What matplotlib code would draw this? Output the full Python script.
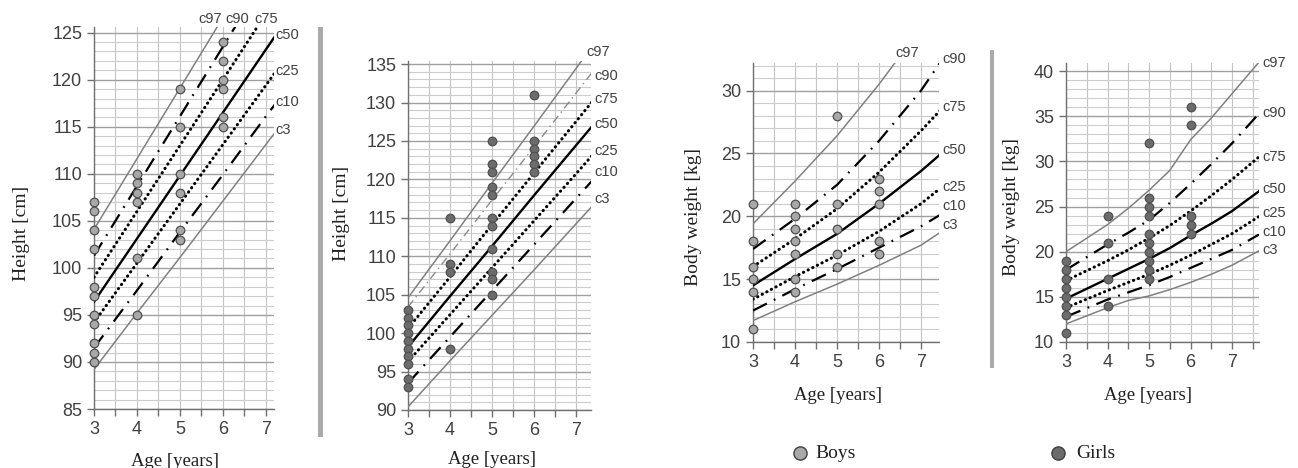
import numpy as np
import matplotlib
matplotlib.use('Agg')
import matplotlib.pyplot as plt
from matplotlib.lines import Line2D
from matplotlib.patches import Rectangle

W, H = 1298, 468
names = ['c97', 'c90', 'c75', 'c50', 'c25', 'c10', 'c3']

# boys height
ages_bh = [3, 4, 5, 6, 7, 7.3]
bh = {
    'c97': [104.1, 111.6, 119.1, 126.6, 134.1, 136.3],
    'c90': [101.3, 108.7, 116.1, 123.5, 130.9, 133.1],
    'c75': [99.0, 106.0, 113.0, 120.0, 127.0, 129.1],
    'c50': [96.4, 103.1, 109.8, 116.5, 123.2, 125.2],
    'c25': [94.2, 100.5, 106.8, 113.1, 119.4, 121.3],
    'c10': [91.5, 97.6, 103.8, 109.9, 116.1, 117.9],
    'c3': [89.2, 95.2, 101.1, 107.1, 113.1, 114.9],
}
bh_x = [3]*11 + [4]*6 + [5]*6 + [6]*6
bh_y = [107, 106, 104, 102, 98, 97, 95, 94, 92, 91, 90,
        110, 109, 108, 107, 101, 95,
        119, 115, 110, 108, 104, 103,
        124, 122, 120, 119, 116, 115]

# girls height
ages_gh = [3, 4, 5, 6, 7, 7.4]
gh = {
    'c97': [104.6, 112.0, 119.5, 126.9, 134.4, 137.4],
    'c90': [103.4, 110.3, 117.3, 124.2, 131.2, 134.0],
    'c75': [100.6, 107.3, 114.1, 120.8, 127.5, 130.2],
    'c50': [98.2, 104.8, 111.3, 117.9, 124.4, 127.0],
    'c25': [96.3, 102.4, 108.5, 114.6, 120.7, 123.2],
    'c10': [93.5, 99.5, 105.5, 111.5, 117.5, 119.9],
    'c3': [90.4, 96.4, 102.3, 108.2, 114.2, 116.6],
}
gh_x = [3]*10 + [4]*4 + [5]*11 + [6]*6
gh_y = [103, 102, 101, 100, 99, 98, 97, 96, 94, 93,
        115, 109, 108, 98,
        125, 122, 121, 119, 118, 115, 114, 111, 108, 107, 105,
        131, 125, 124, 123, 122, 121]

# boys weight
ages_bw = [3, 4, 5, 6, 7, 7.45]
bw = {
    'c97': [19.4, 22.8, 26.4, 30.5, 35.0, 37.0],
    'c90': [17.4, 19.8, 22.5, 26.0, 30.0, 32.2],
    'c75': [16.0, 18.2, 20.6, 23.5, 26.8, 28.4],
    'c50': [14.5, 16.6, 18.6, 21.0, 23.6, 24.9],
    'c25': [13.4, 15.2, 16.9, 18.8, 21.0, 22.2],
    'c10': [12.5, 14.2, 15.8, 17.5, 19.2, 20.1],
    'c3': [11.7, 13.2, 14.6, 16.1, 17.7, 18.7],
}
bw_x = [3]*6 + [4]*7 + [5]*5 + [6]*5
bw_y = [21, 18, 16, 15, 14, 11,
        21, 20, 19, 18, 17, 15, 14,
        28, 21, 19, 17, 16,
        23, 22, 21, 18, 17]

# girls weight
ages_gw = [3, 4, 4.5, 5, 5.5, 6, 6.5, 7, 7.65]
gw = {
    'c97': [20.0, 23.0, 24.8, 26.8, 29.0, 32.4, 34.8, 37.5, 41.0],
    'c90': [18.0, 20.8, 22.1, 23.5, 25.4, 27.5, 29.7, 32.0, 35.3],
    'c75': [16.8, 19.0, 20.2, 21.5, 22.9, 24.5, 26.2, 28.0, 30.5],
    'c50': [14.8, 17.0, 18.1, 19.2, 20.4, 21.8, 23.1, 24.5, 26.7],
    'c25': [13.8, 15.7, 16.6, 17.5, 18.5, 19.6, 20.8, 22.0, 23.9],
    'c10': [12.8, 14.7, 15.5, 16.3, 17.2, 18.2, 19.2, 20.2, 21.9],
    'c3': [12.0, 13.8, 14.6, 15.1, 15.8, 16.6, 17.5, 18.5, 20.1],
}
gw_x = [3]*8 + [4]*4 + [5]*10 + [6]*5
gw_y = [19, 18, 17, 16, 15, 14, 13, 11,
        24, 21, 17, 14,
        32, 26, 25, 24, 22, 21, 20, 19, 18, 17,
        36, 34, 24, 23, 22]

boys_fill = '#a8a8a8'
girls_fill = '#6c6c6c'

dashdot = (0, (7, 3.5, 0.8, 3.5))
dotted = (0, (0.1, 1.6))


def style(name, thin_c90=False):
    if name in ('c97', 'c3'):
        return dict(color='#808080', lw=1.1)
    if name == 'c50':
        return dict(color='black', lw=1.7)
    if name in ('c75', 'c25'):
        return dict(color='black', lw=2.2, linestyle=dotted, dash_capstyle='round')
    if name == 'c90' and thin_c90:
        return dict(color='#8a8a8a', lw=1.0, linestyle=(0, (6, 3, 1, 3)))
    return dict(color='black', lw=1.6, linestyle=dashdot)


def box(l, r, t, b):
    return [l / W, 1 - b / H, (r - l) / W, (b - t) / H]


fig = plt.figure(figsize=(W / 100, H / 100), dpi=100)
sans = 'Liberation Sans'
serif = 'Liberation Serif'

panels = [
    dict(pos=box(94, 274, 27, 409), xlim=(3, 7.19), ylim=(85, 125.6), major=5,
         ages=ages_bh, curves=bh, px=bh_x, py=bh_y, fill=boys_fill, ylabel='Height [cm]',
         thin=False,
         labels={'c97': (5.71, 126.4, 'center'), 'c90': (6.34, 126.4, 'center'),
                 'c75': (7.0, 126.4, 'center'), 'c50': (7.23, 124.8, 'left'),
                 'c25': (7.23, 120.9, 'left'), 'c10': (7.23, 117.6, 'left'),
                 'c3': (7.23, 114.7, 'left')},
         ylab_xy=(22, 233), xlab_xy=(175, 461)),
    dict(pos=box(408, 591, 61, 410), xlim=(3, 7.36), ylim=(90, 135.4), major=5,
         ages=ages_gh, curves=gh, px=gh_x, py=gh_y, fill=girls_fill, ylabel='Height [cm]',
         thin=True,
         labels={'c97': (7.26, 136.6, 'left'), 'c90': (7.43, 133.4, 'left'),
                 'c75': (7.43, 130.4, 'left'), 'c50': (7.43, 127.2, 'left'),
                 'c25': (7.43, 123.7, 'left'), 'c10': (7.43, 121.0, 'left'),
                 'c3': (7.43, 117.4, 'left')},
         ylab_xy=(342, 213), xlab_xy=(492, 459)),
    dict(pos=box(753, 939, 63, 342), xlim=(3, 7.43), ylim=(10, 32.2), major=5,
         ages=ages_bw, curves=bw, px=bw_x, py=bw_y, fill=boys_fill, ylabel='Body weight [kg]',
         thin=False,
         labels={'c97': (6.38, 33.0, 'left'), 'c90': (7.52, 32.55, 'left'),
                 'c75': (7.52, 28.7, 'left'), 'c50': (7.52, 25.3, 'left'),
                 'c25': (7.52, 22.3, 'left'), 'c10': (7.52, 20.8, 'left'),
                 'c3': (7.52, 19.3, 'left')},
         ylab_xy=(693, 217), xlab_xy=(838, 395)),
    dict(pos=box(1066, 1259, 63, 342), xlim=(3, 7.65), ylim=(10, 40.9), major=5,
         ages=ages_gw, curves=gw, px=gw_x, py=gw_y, fill=girls_fill, ylabel='Body weight [kg]',
         thin=False,
         labels={'c97': (7.72, 40.9, 'left'), 'c90': (7.72, 35.35, 'left'),
                 'c75': (7.72, 30.5, 'left'), 'c50': (7.72, 26.9, 'left'),
                 'c25': (7.72, 24.3, 'left'), 'c10': (7.72, 22.2, 'left'),
                 'c3': (7.72, 20.2, 'left')},
         ylab_xy=(1012, 207), xlab_xy=(1148, 395)),
]

for p in panels:
    ax = fig.add_axes(p['pos'])
    ax.set_xlim(*p['xlim'])
    ax.set_ylim(*p['ylim'])
    for s in ('top', 'right'):
        ax.spines[s].set_visible(False)
    for s in ('left', 'bottom'):
        ax.spines[s].set_color('#707070')
        ax.spines[s].set_linewidth(1.0)
    y0 = p['ylim'][0]
    ytop = int(p['ylim'][1])
    ax.set_yticks(np.arange(y0, ytop + 0.1, p['major']))
    ax.set_yticks(np.arange(y0, ytop + 0.1, 1), minor=True)
    ax.set_xticks(np.arange(3, 8, 1))
    ax.set_xticks(np.arange(3.5, p['xlim'][1], 1), minor=True)
    ax.tick_params(axis='both', which='major', labelsize=13, labelcolor='#404040',
                   color='#707070', length=5, width=1)
    ax.tick_params(axis='x', which='minor', color='#707070', length=5, width=1)
    ax.tick_params(axis='y', which='minor', length=0)
    for lab in ax.get_xticklabels() + ax.get_yticklabels():
        lab.set_fontfamily(sans)
    ax.grid(axis='y', which='major', color='#a0a0a0', lw=1.0)
    ax.grid(axis='y', which='minor', color='#cccccc', lw=0.8)
    ax.grid(axis='x', which='both', color='#c4c4c4', lw=0.8)
    ax.set_axisbelow(True)

    for n in names:
        ax.plot(p['ages'], p['curves'][n], **style(n, p['thin']), zorder=3)
    ax.scatter(p['px'], p['py'], s=38, facecolor=p['fill'], edgecolor='#505050',
               linewidth=0.9, zorder=4, clip_on=False)
    for n, (lx, ly, ha) in p['labels'].items():
        ax.text(lx, ly, n, ha=ha, va='center', fontsize=10.5, color='#404040',
                family=sans, clip_on=False)

    fx, fy = p['ylab_xy']
    fig.text(fx / W, 1 - fy / H, p['ylabel'], rotation=90, ha='center', va='center',
             fontsize=14, family=serif, color='#202020')
    fx, fy = p['xlab_xy']
    fig.text(fx / W, 1 - fy / H, 'Age [years]', ha='center', va='center',
             fontsize=13.5, family=serif, color='#202020')

# grey separators
fig.add_artist(Rectangle((318 / W, 1 - 437 / H), 5 / W, 410 / H, transform=fig.transFigure,
                         color='#aaaaaa', lw=0))
fig.add_artist(Rectangle((990 / W, 1 - 368 / H), 4 / W, 318 / H, transform=fig.transFigure,
                         color='#aaaaaa', lw=0))

# legend
for mx, tx, lab, fc in [(800, 815, 'Boys', boys_fill), (1058, 1076, 'Girls', girls_fill)]:
    fig.add_artist(Line2D([mx / W], [1 - 453 / H], marker='o', markersize=9.5,
                          markerfacecolor=fc, markeredgecolor='#404040', markeredgewidth=1,
                          linestyle='none', transform=fig.transFigure))
    fig.text(tx / W, 1 - 453 / H, lab, ha='left', va='center', fontsize=14,
             family=serif, color='#202020')

fig.savefig('out.png', dpi=100, facecolor='white')
